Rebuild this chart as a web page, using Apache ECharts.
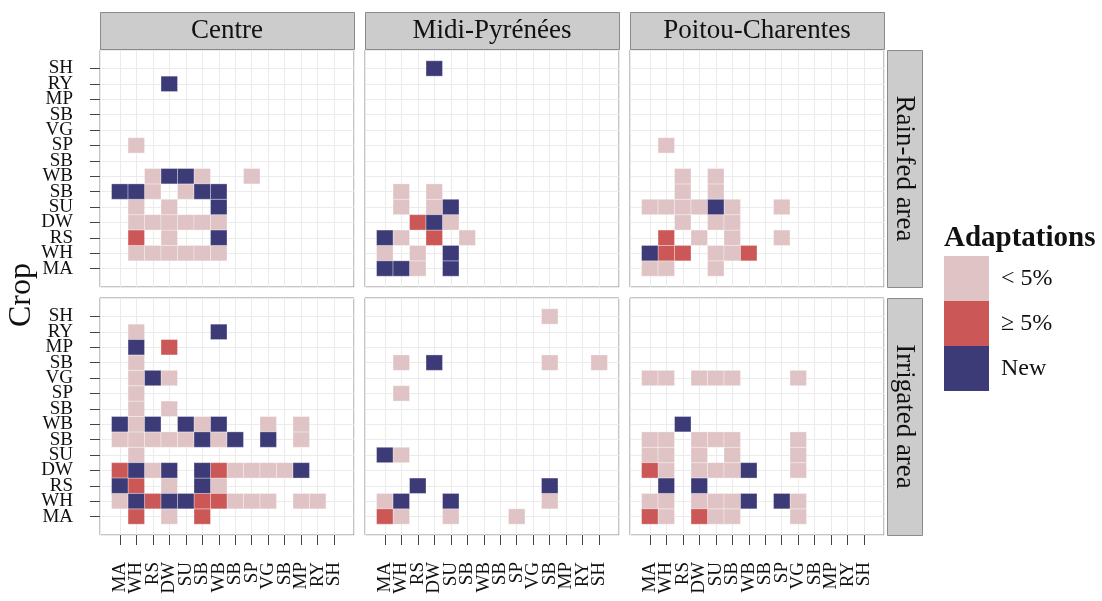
<!DOCTYPE html>
<html>
<head>
<meta charset="utf-8">
<script src="https://cdn.jsdelivr.net/npm/echarts@6/dist/echarts.min.js"></script>
<style>
  html, body { margin: 0; padding: 0; background: #fff; }
  #chart { width: 1102px; height: 601px; }
</style>
</head>
<body>
<div id="chart"></div>
<script>
// Crop codes, used on both axes (index 0 = MA ... 13 = SH)
const crops = ['MA', 'WH', 'RS', 'DW', 'SU', 'SB', 'WB', 'SB', 'SP', 'VG', 'SB', 'MP', 'RY', 'SH'];
const regions = ['Centre', 'Midi-Pyrénées', 'Poitou-Charentes'];
const areas = ['Rain-fed area', 'Irrigated area'];
const levels = ['< 5%', '≥ 5%', 'New'];
const levelCodes = ['l', 'h', 'n'];

// One string per crop (row order = crops), one character per crop column.
// '.' nothing, 'l' < 5%, 'h' >= 5%, 'n' new
const centreRainfed = [
  '..............',
  '.llllll.......',
  '.h.l..n.......',
  '.llllll.......',
  '.l.l..n.......',
  'nnl.lnn.......',
  '..lnnl..l.....',
  '..............',
  '.l............',
  '..............',
  '..............',
  '..............',
  '...n..........',
  '..............'
];
const midiRainfed = [
  'nnl.n.........',
  'l.l.n.........',
  'nl.h.l........',
  '..hnl.........',
  '.l.ln.........',
  '.l.l..........',
  '..............',
  '..............',
  '..............',
  '..............',
  '..............',
  '..............',
  '..............',
  '...n..........'
];
const poitouRainfed = [
  'll..l.........',
  'nhh.llh.......',
  '.h.l.l..l.....',
  '..l.ll........',
  'llllnl..l.....',
  '..l.l.........',
  '..l.l.........',
  '..............',
  '.l............',
  '..............',
  '..............',
  '..............',
  '..............',
  '..............'
];
const centreIrrigated = [
  '.h.l.h........',
  'lnhnnhhlll.ll.',
  'nh.l.nl.......',
  'hnln.nhlllln..',
  '.l............',
  'lllllnln.n.l..',
  'nln.nln..l.l..',
  '.l.l..........',
  '.l............',
  '.lnl..........',
  '.l............',
  '.n.h..........',
  '.l....n.......',
  '..............'
];
const midiIrrigated = [
  'hl..l...l.....',
  'ln..n.....l...',
  '..n.......n...',
  '..............',
  'nl............',
  '..............',
  '..............',
  '..............',
  '.l............',
  '..............',
  '.l.n......l..l',
  '..............',
  '..............',
  '..........l...'
];
const poitouIrrigated = [
  'hl.hll...l....',
  'll.llln.nl....',
  '.n.n..........',
  'hl.llln..l....',
  'll.l.l...l....',
  'll.lll...l....',
  '..n...........',
  '..............',
  '..............',
  'll.lll...l....',
  '..............',
  '..............',
  '..............',
  '..............'
];

const panels = [
  [centreRainfed, midiRainfed, poitouRainfed],
  [centreIrrigated, midiIrrigated, poitouIrrigated]
];

const COLORS = ['#dfc3c5', '#cb5757', '#3c3b77'];
const FONT = '"Liberation Serif", "Times New Roman", serif';
const GRID_LEFTS = [100, 365, 630];
const GRID_TOPS = [50, 298];
const GRID_W = 254;
const GRID_H = 237;
const AXIS_MIN = -1.2;
const AXIS_MAX = 14.2;
// tick positions: one per crop, plus the two axis ends (kept hidden)
const tickValues = [AXIS_MIN].concat(crops.map((_, i) => i), [AXIS_MAX]);

function cropLabel(v) {
  return Number.isInteger(v) ? crops[v] : '';
}

// cells of one panel for one adaptation level, as [column, row]
function cellsOf(rows, code) {
  const out = [];
  rows.forEach((line, y) => {
    for (let x = 0; x < line.length; x++) {
      if (line[x] === code) out.push([x, y]);
    }
  });
  return out;
}

function renderCell(params, api) {
  const x = api.value(0), y = api.value(1);
  const a = api.coord([x - 0.5, y + 0.5]);
  const b = api.coord([x + 0.5, y - 0.5]);
  return {
    type: 'rect',
    shape: { x: a[0], y: a[1], width: b[0] - a[0], height: b[1] - a[1] },
    style: { fill: api.visual('color'), stroke: 'rgba(255,255,255,0.55)', lineWidth: 0.6 }
  };
}

const grids = [], xAxes = [], yAxes = [], series = [], graphics = [];

panels.forEach((rowPanels, r) => {
  rowPanels.forEach((rows, c) => {
    const idx = grids.length;
    grids.push({
      left: GRID_LEFTS[c], top: GRID_TOPS[r], width: GRID_W, height: GRID_H,
      show: true, borderColor: '#8a8a8a', borderWidth: 1, backgroundColor: '#fff'
    });
    const showX = r === 1;
    const showY = c === 0;
    xAxes.push({
      type: 'value', gridIndex: idx, min: AXIS_MIN, max: AXIS_MAX, position: 'bottom',
      axisLine: { show: false, onZero: false },
      axisTick: { show: showX, customValues: tickValues, length: 10, lineStyle: { color: '#444', width: 1 } },
      axisLabel: {
        show: showX, customValues: tickValues, rotate: 90, margin: 27,
        showMinLabel: false, showMaxLabel: false,
        formatter: cropLabel,
        fontFamily: FONT, fontSize: 19, color: '#111'
      },
      splitLine: { show: true, lineStyle: { color: '#ebebeb', width: 1 } }
    });
    yAxes.push({
      type: 'value', gridIndex: idx, min: AXIS_MIN, max: AXIS_MAX, position: 'left',
      axisLine: { show: false, onZero: false },
      axisTick: { show: showY, customValues: tickValues, length: 10, lineStyle: { color: '#444', width: 1 } },
      axisLabel: {
        show: showY, customValues: tickValues, margin: 27,
        showMinLabel: false, showMaxLabel: false,
        formatter: cropLabel,
        fontFamily: FONT, fontSize: 19, color: '#111'
      },
      splitLine: { show: true, lineStyle: { color: '#ebebeb', width: 1 } }
    });
    levelCodes.forEach((code, k) => {
      series.push({
        type: 'custom', name: levels[k],
        xAxisIndex: idx, yAxisIndex: idx,
        itemStyle: { color: COLORS[k] },
        encode: { x: 0, y: 1 },
        renderItem: renderCell,
        data: cellsOf(rows, code),
        silent: true, z: 3
      });
    });
  });
});

// facet strips: regions on top, areas on the right
regions.forEach((name, c) => {
  graphics.push({
    type: 'rect', left: GRID_LEFTS[c], top: 12,
    shape: { width: GRID_W, height: 37 },
    style: { fill: '#cccccc', stroke: '#8a8a8a', lineWidth: 1 }
  });
  graphics.push({
    type: 'text', x: GRID_LEFTS[c] + GRID_W / 2, y: 31,
    style: { text: name, font: '27px ' + FONT, fill: '#111', textAlign: 'center', textVerticalAlign: 'middle' }
  });
});
areas.forEach((name, r) => {
  graphics.push({
    type: 'rect', left: 887, top: GRID_TOPS[r],
    shape: { width: 35, height: GRID_H },
    style: { fill: '#cccccc', stroke: '#8a8a8a', lineWidth: 1 }
  });
  graphics.push({
    type: 'text', x: 904.5, y: GRID_TOPS[r] + GRID_H / 2, rotation: -Math.PI / 2,
    style: { text: name, font: '27px ' + FONT, fill: '#111', textAlign: 'center', textVerticalAlign: 'middle' }
  });
});
// axis title
graphics.push({
  type: 'text', x: 22, y: 295, rotation: Math.PI / 2,
  style: { text: 'Crop', font: '32px ' + FONT, fill: '#111', textAlign: 'center', textVerticalAlign: 'middle' }
});
// legend title
graphics.push({
  type: 'text', x: 944, y: 239,
  style: { text: 'Adaptations', font: 'bold 29px ' + FONT, fill: '#111', textAlign: 'left', textVerticalAlign: 'middle' }
});

const chart = echarts.init(document.getElementById('chart'), null, { renderer: 'canvas' });
chart.setOption({
  animation: false,
  backgroundColor: '#fff',
  grid: grids,
  xAxis: xAxes,
  yAxis: yAxes,
  series: series,
  legend: {
    data: levels, orient: 'vertical', left: 944, top: 256, padding: 0,
    itemWidth: 45, itemHeight: 45, itemGap: 0, icon: 'rect',
    selectedMode: false,
    textStyle: { fontFamily: FONT, fontSize: 24, color: '#111', padding: [0, 0, 0, 7] }
  },
  graphic: graphics
});
</script>
</body>
</html>
